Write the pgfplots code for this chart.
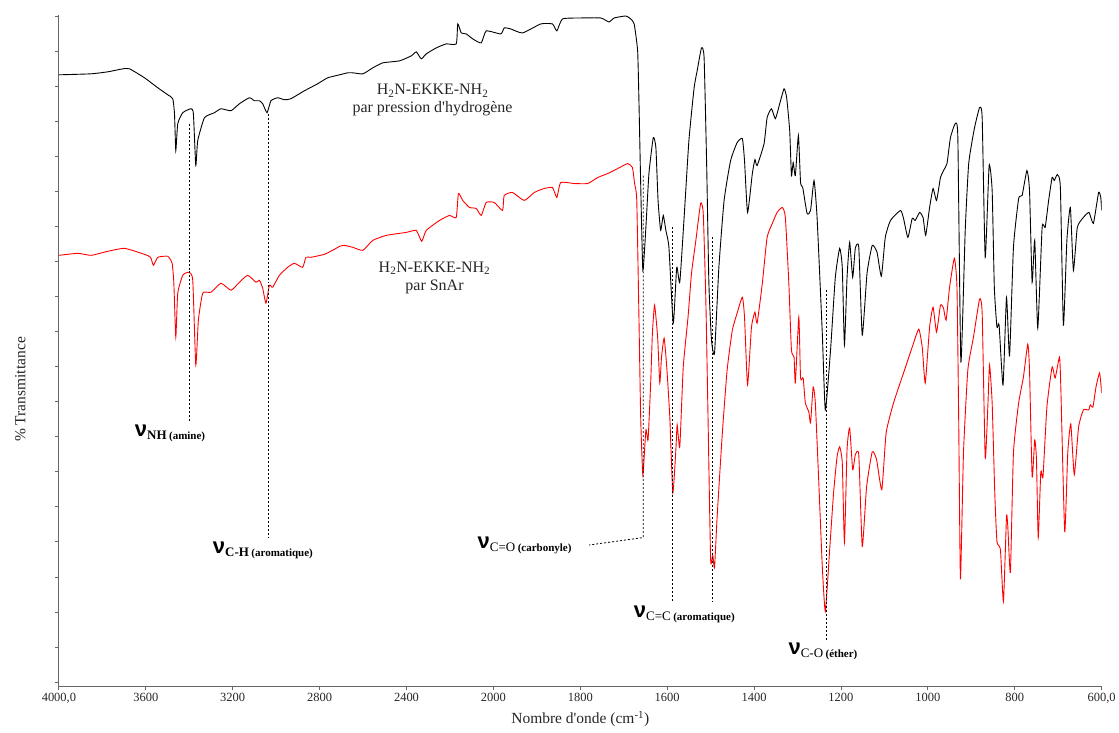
\documentclass[border=0pt]{standalone}
\usepackage{fontspec}
\setmainfont{Liberation Serif}
\newfontfamily\nufont{Liberation Sans}
\usepackage{pgfplots}
\pgfplotsset{compat=1.18}

% nu label: #1 weight of the subscript, #2 group, #3 comment
\newcommand{\vib}[3]{{\fontsize{22bp}{22bp}\selectfont\nufont\bfseries ν}\raisebox{-3bp}{{\fontsize{13bp}{13bp}\selectfont#1#2} {\fontsize{11bp}{11bp}\selectfont\bfseries(#3)}}}

\begin{document}
\begin{tikzpicture}
\begin{axis}[
  scale only axis, width=1044bp, height=672bp,
  % broken wavenumber scale: 400 cm-1 per division above 2000, 200 below
  x coord trafo/.code={\pgfmathparse{#1>=2000 ? (4000-#1)/400 : 5+(2000-#1)/200}},
  xmin=4000, xmax=600, ymin=0, ymax=673,
  axis lines*=left,
  axis line style={draw=black!60, line width=0.9bp},
  tick style={draw=black!60, line width=0.9bp},
  tick align=outside, major tick length=4bp,
  xtick={4000,3600,3200,2800,2400,2000,1800,1600,1400,1200,1000,800,600},
  xticklabels={{4000,0},3600,3200,2800,2400,2000,1800,1600,1400,1200,1000,800,{600,0}},
  ytick={3.96,39.12,74.28,109.44,144.6,179.76,214.92,250.08,285.24,320.4,355.56,390.72,425.88,461.04,496.2,531.36,566.52,601.68,636.84,672},
  yticklabels={},
  tick label style={font=\fontsize{12.5bp}{14bp}\selectfont, text=black!85},
  xlabel={Nombre d\textquotesingle onde (cm\textsuperscript{-1})},
  ylabel={\% Transmittance},
  label style={font=\fontsize{15.5bp}{17bp}\selectfont, text=black!85},
  xlabel style={at={(axis description cs:0.5,0)}, anchor=north, yshift=-22bp},
  ylabel style={at={(axis description cs:-0.037,0.442)}, anchor=center},
  marker/.style={black, line width=0.8bp, dash pattern=on 2bp off 2bp, no marks},
  spectrum/.style={line width=0.9bp, no marks, smooth, tension=0.3},
]
% H2N-EKKE-NH2 par pression d'hydrogene
\addplot[black, spectrum] coordinates {
(4000,613)(3852,614)(3775,616)(3706,619)(3675,619)(3606,610)(3545,600)(3499,593)(3476,589)(3468,574)(3462,537)(3453,564)(3430,575)(3392,579)(3381,574)(3370,522)(3361,547)(3330,570)(3284,575)(3254,579)(3208,577)(3169,584)(3123,590)(3100,587)(3077,587)(3062,584)(3042,575)(3024,587)(2993,590)(2962,588)(2932,589)(2870,597)(2809,604)(2763,610)(2708,613)(2671,615)(2647,615)(2601,614)(2555,620)(2509,625)(2432,627)(2378,632)(2355,636)(2332,629)(2309,634)(2263,640)(2217,644)(2171,644)(2164,664)(2148,655)(2125,654)(2095,649)(2056,645)(2033,657)(1983,654)(1975,660)(1960,659)(1933,655)(1891,664)(1864,664)(1854,657)(1841,669)(1799,670)(1753,670)(1734,666)(1722,670)(1695,672)(1684,669)(1676,664)(1668,637)(1665,587)(1661,504)(1656,417)(1649,460)(1642,514)(1632,550)(1626,540)(1621,487)(1615,457)(1609,472)(1603,457)(1596,440)(1586,364)(1578,420)(1571,405)(1561,470)(1550,547)(1538,600)(1531,617)(1521,640)(1515,630)(1509,520)(1504,404)(1498,347)(1491,334)(1481,420)(1469,487)(1454,527)(1439,545)(1427,549)(1422,527)(1415,475)(1404,514)(1398,528)(1393,522)(1377,544)(1370,570)(1360,579)(1351,569)(1341,584)(1331,599)(1325,590)(1318,557)(1314,512)(1310,525)(1305,512)(1298,552)(1293,505)(1288,500)(1278,474)(1270,477)(1262,507)(1255,470)(1243,354)(1236,277)(1224,337)(1213,410)(1203,439)(1197,420)(1192,342)(1186,410)(1180,445)(1173,410)(1167,439)(1159,440)(1151,352)(1140,414)(1128,442)(1117,435)(1107,411)(1098,450)(1086,467)(1063,477)(1056,469)(1046,450)(1036,469)(1029,467)(1019,475)(1011,470)(1005,452)(996,480)(988,499)(980,487)(971,510)(964,517)(956,524)(948,550)(937,564)(931,550)(924,325)(914,457)(906,524)(893,559)(881,580)(875,570)(868,430)(859,522)(852,497)(847,400)(841,360)(836,362)(827,302)(819,390)(812,331)(803,440)(791,489)(783,492)(772,517)(766,497)(760,405)(754,447)(747,359)(737,460)(730,460)(722,487)(714,510)(709,507)(702,513)(695,500)(688,362)(680,447)(672,480)(665,417)(656,460)(642,470)(629,475)(619,464)(607,495)(602,490)(600,477)
};
% H2N-EKKE-NH2 par SnAr
\addplot[red, spectrum] coordinates {
(4000,432)(3913,434)(3852,432)(3775,436)(3698,439)(3606,433)(3578,430)(3565,422)(3545,430)(3499,431)(3479,424)(3471,404)(3462,350)(3453,394)(3430,412)(3402,415)(3384,407)(3370,322)(3358,367)(3338,394)(3300,395)(3254,404)(3208,397)(3169,405)(3131,412)(3093,405)(3077,407)(3062,399)(3047,384)(3031,402)(3016,400)(2985,412)(2947,420)(2916,424)(2878,420)(2863,430)(2840,430)(2778,433)(2732,438)(2708,441)(2686,442)(2647,440)(2601,437)(2555,447)(2493,452)(2401,455)(2355,457)(2330,446)(2309,457)(2248,467)(2202,472)(2171,470)(2161,494)(2141,487)(2110,480)(2079,479)(2056,472)(2033,485)(1998,485)(1979,477)(1975,492)(1956,495)(1929,487)(1906,495)(1883,499)(1864,500)(1854,490)(1845,505)(1814,504)(1783,504)(1760,510)(1737,514)(1714,519)(1691,524)(1680,520)(1675,504)(1670,487)(1665,370)(1661,270)(1656,212)(1649,257)(1644,247)(1638,304)(1634,354)(1629,382)(1622,350)(1617,304)(1613,330)(1607,349)(1601,320)(1594,270)(1587,194)(1580,237)(1577,262)(1571,240)(1563,320)(1552,370)(1544,414)(1534,447)(1523,484)(1517,474)(1511,387)(1506,270)(1500,127)(1495,131)(1491,119)(1485,170)(1473,254)(1462,317)(1450,357)(1439,374)(1427,390)(1422,370)(1415,302)(1406,360)(1398,375)(1393,364)(1381,404)(1370,450)(1358,464)(1347,475)(1335,480)(1328,470)(1320,404)(1314,337)(1308,330)(1305,304)(1297,370)(1293,309)(1287,309)(1282,284)(1274,275)(1270,264)(1264,300)(1259,284)(1251,204)(1243,120)(1236,75)(1226,137)(1217,194)(1209,230)(1203,240)(1197,224)(1192,144)(1186,237)(1180,259)(1173,217)(1167,232)(1159,232)(1151,140)(1141,200)(1128,235)(1118,227)(1106,197)(1096,254)(1079,284)(1056,314)(1036,340)(1021,358)(1013,340)(1006,304)(996,360)(988,380)(980,355)(971,382)(964,379)(958,367)(950,400)(939,429)(933,400)(929,267)(925,107)(918,234)(908,317)(895,350)(881,388)(875,374)(868,229)(862,280)(858,322)(852,284)(846,194)(841,145)(833,137)(826,85)(819,170)(816,160)(810,114)(803,234)(791,284)(780,310)(770,343)(766,317)(760,210)(754,247)(750,227)(746,149)(740,215)(735,210)(726,280)(714,320)(707,309)(697,330)(694,300)(685,155)(678,234)(671,263)(663,212)(653,260)(642,277)(630,277)(626,282)(620,280)(613,300)(605,314)(602,304)(600,294)
};
% band markers
\addplot[marker] coordinates {(3398,564)(3398,265)};
\addplot[marker] coordinates {(3038,574)(3038,149)};
\addplot[marker] coordinates {(1655,512)(1655,149)(1780,141.5)};
\addplot[marker] coordinates {(1588,460)(1588,85)};
\addplot[marker] coordinates {(1496,450)(1496,85)};
\addplot[marker] coordinates {(1234,397)(1234,45)};

\node[align=center, anchor=north, font=\fontsize{16bp}{18bp}\selectfont, text=black!85]
  at (axis cs:2280,607) {H\textsubscript{2}N-EKKE-NH\textsubscript{2}\\par pression d\textquotesingle hydrogène};
\node[align=center, anchor=north, font=\fontsize{16bp}{18bp}\selectfont, text=black!85]
  at (axis cs:2271,429) {H\textsubscript{2}N-EKKE-NH\textsubscript{2}\\par SnAr};

\node[anchor=base west, inner sep=0pt] at (axis cs:3651,250) {\vib{\bfseries}{NH}{amine}};
\node[anchor=base west, inner sep=0pt] at (axis cs:3292,133) {\vib{\bfseries}{C-H}{aromatique}};
\node[anchor=base west, inner sep=0pt] at (axis cs:2073,138) {\vib{\mdseries}{C=O}{carbonyle}};
\node[anchor=base west, inner sep=0pt] at (axis cs:1677,69) {\vib{\mdseries}{C=C}{aromatique}};
\node[anchor=base west, inner sep=0pt] at (axis cs:1321,32) {\vib{\mdseries}{C-O}{éther}};
\end{axis}
\path (current axis.south west) ++(-59bp,-46bp) rectangle ++(1119bp,733bp);
\end{tikzpicture}
\end{document}
